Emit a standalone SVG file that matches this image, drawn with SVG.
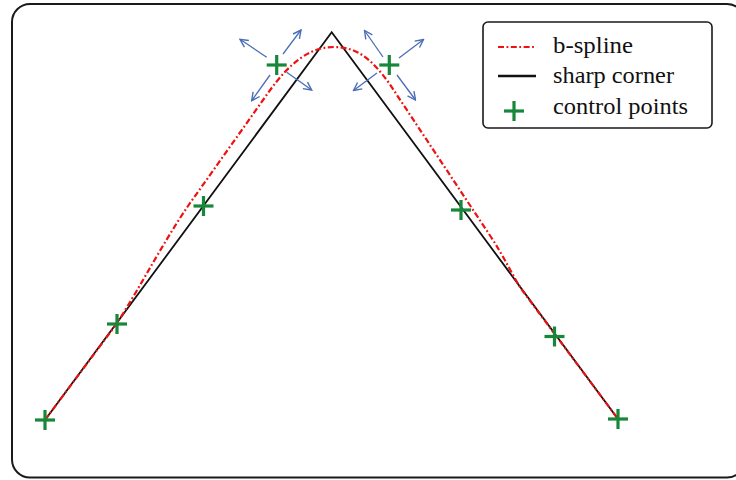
<svg xmlns="http://www.w3.org/2000/svg" width="736" height="480" viewBox="0 0 736 480">
  <defs>
    <marker id="ah" viewBox="0 0 10 10" refX="9" refY="5" markerWidth="10" markerHeight="10" markerUnits="userSpaceOnUse" orient="auto">
      <polyline points="1,1 9,5 1,9" fill="none" stroke="#4a6db8" stroke-width="1.4"/>
    </marker>
    <g id="plus">
      <line x1="-10" y1="0" x2="10" y2="0"/>
      <line x1="0" y1="-10" x2="0" y2="10"/>
    </g>
  </defs>
  <style>
    .frame { fill: #ffffff; stroke: #1a1a1a; stroke-width: 2; }
    .legend { fill: #ffffff; stroke: #1a1a1a; stroke-width: 1.6; }
    .sharp { fill: none; stroke: #111111; stroke-width: 1.8; }
    .spline { fill: none; stroke: #ee1111; stroke-width: 2.2; stroke-dasharray: 6 2.5 1.8 2.5; }
    .cp { stroke: #17873a; stroke-width: 3.2; }
    .arrow { stroke: #4a6db8; stroke-width: 1.3; marker-end: url(#ah); }
    .lbl { font-family: "Liberation Serif", "Times New Roman", serif; font-size: 22.5px; fill: #111111; }
  </style>

  <rect class="frame" x="12" y="4" width="733" height="473.5" rx="18"/>

  <g id="connectors">
    <polyline id="sharp-corner" class="sharp" points="45,420 331.7,32.3 618,419"/>
    <path id="b-spline" class="spline" d="M45,420 L112,330 C130,306 160,247 188,206 L268,93 C290,62 310,47 334,47 C358,47 372,60 389,83 L489,234 C505,258 512,275 522,290 L618,419"/>
    <g id="arrows-left">
      <line class="arrow" x1="266.7" y1="57.3" x2="240" y2="39.3"/>
      <line class="arrow" x1="283" y1="54" x2="301" y2="30"/>
      <line class="arrow" x1="270" y1="75" x2="251.7" y2="100.7"/>
      <line class="arrow" x1="286.7" y1="72.3" x2="311.7" y2="90"/>
    </g>
    <g id="arrows-right">
      <line class="arrow" x1="383" y1="57" x2="364.5" y2="30.5"/>
      <line class="arrow" x1="399" y1="58" x2="423.5" y2="39.5"/>
      <line class="arrow" x1="377" y1="73" x2="353.5" y2="90.5"/>
      <line class="arrow" x1="397" y1="75" x2="415.5" y2="100"/>
    </g>
  </g>

  <g id="control-points" class="cp">
    <use href="#plus" x="45" y="420"/>
    <use href="#plus" x="117" y="324"/>
    <use href="#plus" x="203.5" y="206"/>
    <use href="#plus" x="276.7" y="65"/>
    <use href="#plus" x="389.3" y="65"/>
    <use href="#plus" x="461" y="210"/>
    <use href="#plus" x="554.5" y="336.5"/>
    <use href="#plus" x="618" y="419"/>
  </g>

  <g id="legend">
    <rect class="legend" x="483" y="22" width="229" height="106" rx="5"/>
    <line class="spline" x1="498" y1="47" x2="536" y2="47"/>
    <text class="lbl" x="553" y="53" textLength="80" lengthAdjust="spacingAndGlyphs">b-spline</text>
    <line class="sharp" x1="498" y1="76" x2="536" y2="76" style="stroke-width:2.6"/>
    <text class="lbl" x="553" y="83" textLength="121" lengthAdjust="spacingAndGlyphs">sharp corner</text>
    <use href="#plus" x="514" y="111" class="cp"/>
    <text class="lbl" x="553" y="114" textLength="135" lengthAdjust="spacingAndGlyphs">control points</text>
  </g>
</svg>
